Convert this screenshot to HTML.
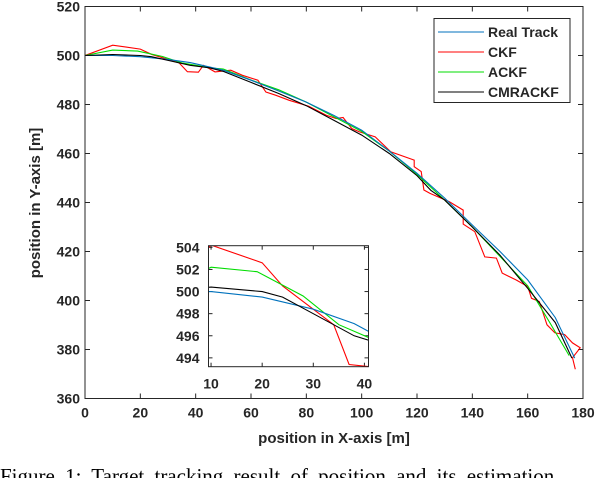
<!DOCTYPE html>
<html><head><meta charset="utf-8"><style>
body{margin:0;background:#fff;width:612px;height:478px;overflow:hidden;position:relative}
svg{position:absolute;left:0;top:0;overflow:hidden}
text{font-family:"Liberation Sans",sans-serif;fill:#262626}
</style></head><body>
<svg id="c" width="612" height="478" xmlns="http://www.w3.org/2000/svg"></svg>
<script>
const xTicks=[0,20,40,60,80,100,120,140,160,180];
const yTicks=[360,380,400,420,440,460,480,500,520];
const insetXTicks=[10,20,30,40];
const insetYTicks=[494,496,498,500,502,504];
const seriesNames=["Real Track","CKF","ACKF","CMRACKF"];
const seriesColors=["#0072bd","#ff0000","#00dd00","#000000"];
const realX=[0,10,20,30,38,40,50,60,70,80,90,100,110,120,130,140,150,160,170,177];
const realY=[500,500,499.5,498.4,497.1,496.6,494,489.9,485.5,481,475.5,469.5,461,451.9,441.8,430.8,420,408.4,393,376.5];
const ckfX=[0,10,20,24,34,37,41,42.8,47,52.7,56.9,62.5,65.4,68.9,73.8,80.9,87.2,90.8,93.3,96.4,99.2,104.9,110.5,119,119,121.5,122.5,124.7,131.7,136.7,136.7,140.9,144.5,148.7,150.8,155.8,160,161.4,164.2,167,169.8,173.4,176.2,179,176.2,177.2];
const ckfY=[500,504.2,502.6,500.5,497,493.4,493.2,496,493.3,494,491.9,489.9,485.1,483.8,481.7,479.3,475.6,474.3,474.7,470.2,468.8,466.8,460.7,457.3,454.6,452.6,445.1,443.7,440.3,436.9,431.2,428.1,417.8,417.3,411.2,408.4,405.7,400.9,399.6,390.1,386.8,386.1,382.7,380.7,376.6,371.9];
const ackfX=[0,10,19,28,35,39,45,50,60,70,80,90,100,110,120,130,140,150,160,168,175];
const ackfY=[500,502.2,501.8,499.6,497,496.2,495,494.5,490,486,481,475,469,461,451.5,441,430,418,406,391,377.5];
const cmrX=[0,10,20,24,30,38,45,50,60,70,80,90,100,110,120,125,130,140,150,160,170,176];
const cmrY=[500,500.4,500,499.5,498,496,495,493.5,489,484.5,479.5,473.5,467.5,460,451,445,441,430,418.5,405,391,376.5];
const NS="http://www.w3.org/2000/svg";
const svg=document.getElementById('c');
function el(t,a,p){const e=document.createElementNS(NS,t);for(const k in a)e.setAttribute(k,a[k]);(p||svg).appendChild(e);return e;}
function mk(L,R,T,B,x0,x1,y0,y1){return{x:v=>L+(v-x0)/(x1-x0)*(R-L),y:v=>B-(v-y0)/(y1-y0)*(B-T),L,R,T,B};}
const M=mk(85,583,6.5,398.5,0,180,360,520);
const I=mk(208.5,368.5,245.7,366.7,9.5,40.8,493.2,504.15);
function drawAxes(A,xt,yt,tl,fs,name,xoff,yoff){
  const g=el('g',{});
  
  
  el('rect',{x:A.L,y:A.T,width:A.R-A.L,height:A.B-A.T,fill:'#fff',stroke:'none'},g);
  xt.forEach(v=>{const x=A.x(v);
    el('line',{x1:x,x2:x,y1:A.B,y2:A.B-tl,stroke:'#262626','stroke-width':1},g);
    el('line',{x1:x,x2:x,y1:A.T,y2:A.T+tl,stroke:'#262626','stroke-width':1},g);
    const t=el('text',{x:x,y:A.B+xoff,'text-anchor':'middle','font-size':fs,'font-weight':'bold'},g);t.textContent=v;
    
    });
  yt.forEach(v=>{const y=A.y(v);
    el('line',{x1:A.L,x2:A.L+tl,y1:y,y2:y,stroke:'#262626','stroke-width':1},g);
    el('line',{x1:A.R,x2:A.R-tl,y1:y,y2:y,stroke:'#262626','stroke-width':1},g);
    const t=el('text',{x:A.L-yoff,y:y+fs*0.36,'text-anchor':'end','font-size':fs,'font-weight':'bold'},g);t.textContent=v;
    
    });
  return g;
}
function drawSeries(A,X,Y,col,name,clip){
  const p=el('polyline',{points:X.map((v,i)=>A.x(v).toFixed(1)+','+A.y(Y[i]).toFixed(1)).join(' '),fill:'none',stroke:col,'stroke-width':1.1});
  if(clip)p.setAttribute('clip-path','url(#'+clip+')');
  
  
}
const defs=el('defs',{});
const cp=el('clipPath',{id:'ic'},defs);el('rect',{x:I.L,y:I.T,width:I.R-I.L,height:I.B-I.T},cp);
const cpm=el('clipPath',{id:'mc'},defs);el('rect',{x:M.L,y:M.T,width:M.R-M.L,height:M.B-M.T},cpm);
drawAxes(M,xTicks,yTicks,5,14,'main-axes',19,5);
const all=[[realX,realY],[ckfX,ckfY],[ackfX,ackfY],[cmrX,cmrY]];
const order=[1,2,0,3];
order.forEach(i=>drawSeries(M,all[i][0],all[i][1],seriesColors[i],'series-'+seriesNames[i].toLowerCase().replace(' ','-'),'mc'));
el('rect',{x:M.L,y:M.T,width:M.R-M.L,height:M.B-M.T,fill:'none',stroke:'#262626','stroke-width':1});
drawAxes(I,insetXTicks,insetYTicks,4,14,'inset-axes',22,9);
order.forEach(i=>drawSeries(I,all[i][0],all[i][1],seriesColors[i],'inset-'+seriesNames[i].toLowerCase().replace(' ','-'),'ic'));
el('rect',{x:I.L,y:I.T,width:I.R-I.L,height:I.B-I.T,fill:'none',stroke:'#262626','stroke-width':1});
let t=el('text',{x:334,y:443,'text-anchor':'middle','font-size':15,'font-weight':'bold'});t.textContent='position in X-axis [m]';


t=el('text',{x:0,y:0,'text-anchor':'middle','font-size':15,'font-weight':'bold',transform:'translate(40,203) rotate(-90)'});t.textContent='position in Y-axis [m]';


const lg=el('g',{});


el('rect',{x:434,y:18.5,width:136,height:84,fill:'#fff',stroke:'#262626','stroke-width':1},lg);
seriesNames.forEach((n,i)=>{const y=32+i*20;
  const e=el('g',{},lg);
  
  
  el('line',{x1:438,x2:484,y1:y,y2:y,stroke:seriesColors[i],'stroke-width':1.1},e);
  const tt=el('text',{x:488,y:y+5,'font-size':14,'font-weight':'bold'},e);tt.textContent=n;});
t=el('text',{x:0,y:483,'font-size':21,'word-spacing':'5'});t.setAttribute('style','font-family:"Liberation Serif",serif;fill:#000');
t.textContent='Figure 1: Target tracking result of position and its estimation';


</script>
</body></html>
